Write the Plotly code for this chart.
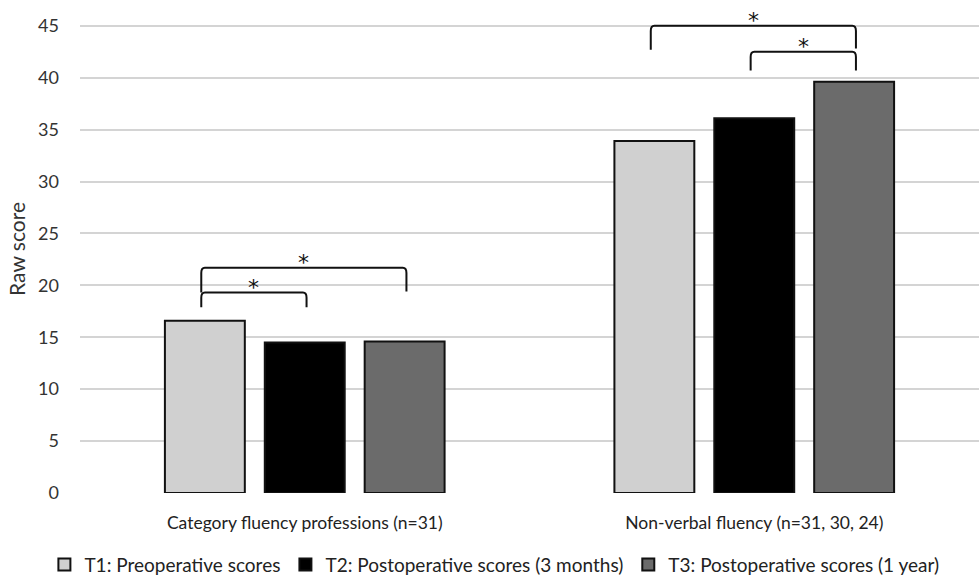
import plotly.graph_objects as go

# Fluency test raw scores at three time points
categories = ["Category fluency professions (n=31)", "Non-verbal fluency (n=31, 30, 24)"]
series_names = [
    "T1: Preoperative scores",
    "T2: Postoperative scores (3 months)",
    "T3: Postoperative scores (1 year)",
]
t1_scores = [16.6, 33.9]
t2_scores = [14.5, 36.1]
t3_scores = [14.6, 39.6]
y_ticks = [0, 5, 10, 15, 20, 25, 30, 35, 40, 45]

# Significance brackets: (category index, from series, to series, bar level, left leg end, right leg end)
brackets = [
    (0, 0, 2, 21.7, 19.3, 19.4),
    (0, 0, 1, 19.3, 17.9, 17.9),
    (1, 0, 2, 45.0, 42.7, 42.8),
    (1, 1, 2, 42.5, 40.7, 40.7),
]

fills = ["#d0d0d0", "#000000", "#6b6b6b"]
FONT = "Lato, 'Open Sans', sans-serif"
BARGAP = 1 / 3
slot = (1 - BARGAP) / 3

fig = go.Figure()
for name, vals, col in zip(series_names, [t1_scores, t2_scores, t3_scores], fills):
    fig.add_trace(go.Bar(
        x=list(range(len(categories))), y=vals, name=name,
        marker=dict(color=col, line=dict(color="#111111", width=2)),
    ))

def bar_center(cat, s):
    return cat + (s - 1) * slot

for cat, a, b, yh, yl, yr in brackets:
    x0 = bar_center(cat, a) - 0.008
    x1 = bar_center(cat, b) + 0.004
    dx, dy = 0.008, 0.5
    path = (f"M {x0},{yl} L {x0},{yh - dy} Q {x0},{yh} {x0 + dx},{yh} "
            f"L {x1 - dx},{yh} Q {x1},{yh} {x1},{yh - dy} L {x1},{yr}")
    fig.add_shape(type="path", path=path, xref="x", yref="y",
                  line=dict(color="#111111", width=2), layer="above")
    fig.add_annotation(x=(x0 + x1) / 2, y=yh, text="*", showarrow=False,
                       yanchor="middle", xanchor="center", yshift=5,
                       font=dict(size=22, color="#111111", family="DejaVu Sans"))

fig.update_layout(
    width=979, height=579,
    margin=dict(l=80, r=0, t=5, b=86, autoexpand=False),
    paper_bgcolor="white", plot_bgcolor="white",
    barmode="group", bargap=BARGAP, bargroupgap=0.2,
    font=dict(family=FONT, color="#333333", size=16),
    showlegend=True,
    legend=dict(orientation="h", xref="container", x=0.505, xanchor="center",
                yref="container", y=0.025, yanchor="middle",
                font=dict(size=19, color="#222222"), itemwidth=30, traceorder="normal"),
    xaxis=dict(range=[-0.5, 1.5], tickvals=list(range(len(categories))), ticktext=categories,
               showgrid=False, zeroline=False, showline=False, ticks="", automargin=False,
               ticklabelstandoff=17, tickfont=dict(size=17.5, color="#222222")),
    yaxis=dict(range=[0, 47], tickvals=y_ticks, showgrid=True, gridcolor="#d4d4d4", gridwidth=2,
               zeroline=False, showline=False, ticks="", ticklabelstandoff=20, automargin=False,
               tickfont=dict(size=18, color="#333333"),
               title=dict(text="Raw score", font=dict(size=21, color="#333333"), standoff=6)),
)

fig.write_html("out.html")
